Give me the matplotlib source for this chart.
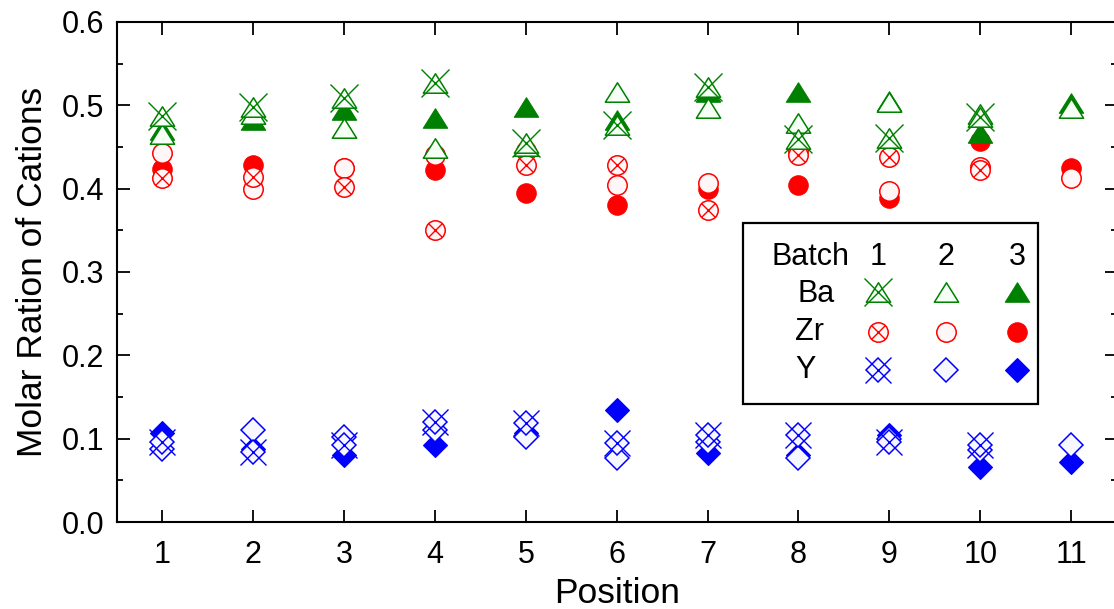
import numpy as np
import matplotlib
matplotlib.use("Agg")
import matplotlib.pyplot as plt
from matplotlib.path import Path
from matplotlib.lines import Line2D
from matplotlib.patches import Rectangle
from matplotlib.ticker import MultipleLocator

plt.rcParams['font.family'] = ['Liberation Sans', 'DejaVu Sans']

# ---------------- data ----------------
positions = [1, 2, 3, 4, 5, 6, 7, 8, 9, 10, 11]
positions_b1 = [1, 2, 3, 4, 5, 6, 7, 8, 9, 10]

ba_b1 = [0.487, 0.498, 0.509, 0.527, 0.455, 0.476, 0.522, 0.459, 0.461, 0.486]
ba_b2 = [0.466, 0.490, 0.473, 0.449, 0.451, 0.516, 0.497, 0.479, 0.504, 0.490, 0.497]
ba_b3 = [0.471, 0.482, 0.494, 0.485, 0.498, 0.482, 0.516, 0.516, 0.505, 0.467, 0.503]

zr_b1 = [0.413, 0.414, 0.402, 0.351, 0.428, 0.428, 0.374, 0.440, 0.438, 0.422]
zr_b2 = [0.443, 0.399, 0.425, 0.441, 0.445, 0.404, 0.407, 0.446, 0.397, 0.426, 0.413]
zr_b3 = [0.424, 0.428, 0.425, 0.422, 0.395, 0.380, 0.400, 0.404, 0.389, 0.457, 0.425]

y_b1 = [0.096, 0.084, 0.092, 0.120, 0.119, 0.095, 0.104, 0.104, 0.096, 0.092]
y_b2 = [0.088, 0.110, 0.102, 0.110, 0.102, 0.077, 0.096, 0.077, 0.100, 0.086, 0.093]
y_b3 = [0.107, 0.088, 0.081, 0.092, 0.107, 0.134, 0.083, 0.080, 0.105, 0.066, 0.072]

batch_labels = ["1", "2", "3"]
element_labels = ["Ba", "Zr", "Y"]

# ---------------- styles ----------------
GREEN = '#008000'
RED = '#ff0000'
BLUE = '#0000ff'
LGREEN = '#f6fff6'
LRED = '#fff7f7'
LBLUE = '#f7f7ff'

TRI = Path([(-1, -0.8), (1, -0.8), (0, 0.8), (-1, -0.8)], closed=True)

TRI_MS = 17.5
CIR_MS = 14
DIA_MS = 12.5

styles = {
    'Ba': dict(marker=TRI, ms=TRI_MS, color=GREEN, light=LGREEN, xms=20),
    'Zr': dict(marker='o', ms=CIR_MS, color=RED, light=LRED, xms=10.5),
    'Y':  dict(marker='D', ms=DIA_MS, color=BLUE, light=LBLUE, xms=19),
}


def draw(target, xs, ys, elem, batch, **kw):
    st = styles[elem]
    if batch == 3:
        target.plot(xs, ys, ls='none', marker=st['marker'], ms=st['ms'],
                    mfc=st['color'], mec=st['color'], mew=0.8, **kw)
    else:
        target.plot(xs, ys, ls='none', marker=st['marker'], ms=st['ms'],
                    mfc=st['light'], mec=st['color'], mew=1.1, **kw)
        if batch == 1:
            target.plot(xs, ys, ls='none', marker='x', ms=st['xms'],
                        mec=st['color'], mew=1.0, **kw)


W, H = 1114, 609
fig = plt.figure(figsize=(W / 100, H / 100), dpi=100)

left_px, right_px, top_px, bottom_px = 117, 1116.5, 22, 522
ax = fig.add_axes([left_px / W, 1 - bottom_px / H,
                   (right_px - left_px) / W, (bottom_px - top_px) / H])

series = {
    'Y': [(positions_b1, y_b1), (positions, y_b2), (positions, y_b3)],
    'Zr': [(positions_b1, zr_b1), (positions, zr_b2), (positions, zr_b3)],
    'Ba': [(positions_b1, ba_b1), (positions, ba_b2), (positions, ba_b3)],
}
for elem in ['Y', 'Zr', 'Ba']:
    for batch in [3, 2, 1]:
        xs, ys = series[elem][batch - 1]
        draw(ax, xs, ys, elem, batch)

ax.set_xlim(0.5, 11.5)
ax.set_ylim(0.0, 0.6)
ax.set_xticks(positions)
ax.yaxis.set_major_locator(MultipleLocator(0.1))
ax.yaxis.set_minor_locator(MultipleLocator(0.05))
ax.yaxis.set_major_formatter(matplotlib.ticker.FormatStrFormatter('%.1f'))

for s in ['left', 'bottom', 'top']:
    ax.spines[s].set_linewidth(1.5)
ax.spines['right'].set_visible(False)

ax.tick_params(axis='both', which='major', direction='in', length=9,
               width=1.3, top=True, right=True, labelsize=22)
ax.tick_params(axis='y', which='minor', direction='in', length=4.5,
               width=1.3, right=True)
ax.tick_params(axis='y', which='major', pad=9)
ax.tick_params(axis='x', which='major', pad=13)

ax.set_xlabel('Position', fontsize=25.5, labelpad=5)
ax.set_ylabel('Molar Ration of Cations', fontsize=25.5, labelpad=9)

# ---------------- legend (manual table) ----------------
def fx(px):
    return px / W


def fy(py):
    return 1 - py / H


fig.add_artist(Rectangle((fx(743), fy(404)), fx(1038) - fx(743), fy(223) - fy(404),
                         transform=fig.transFigure, fill=False, ec='black',
                         lw=1.6, zorder=5))

fig.text(fx(771), fy(257), 'Batch', fontsize=22, va='center', ha='left', zorder=6)
col_x = [878, 946, 1017]
for cx, lab in zip(col_x, batch_labels):
    fig.text(fx(cx), fy(257), lab, fontsize=22, va='center', ha='center', zorder=6)

row_y = [294, 332, 370]
row_lab_x = [797, 795, 795]
for ry, lx, elem in zip(row_y, row_lab_x, element_labels):
    fig.text(fx(lx), fy(ry), elem, fontsize=22, va='center', ha='left', zorder=6)
    mk_y = ry - 2 if elem == 'Ba' else ry
    for cx, batch in zip(col_x, [1, 2, 3]):
        st = styles[elem]
        if batch == 3:
            fig.add_artist(Line2D([fx(cx)], [fy(mk_y)], transform=fig.transFigure,
                                  ls='none', marker=st['marker'], ms=st['ms'],
                                  mfc=st['color'], mec=st['color'], mew=0.8, zorder=6))
        else:
            fig.add_artist(Line2D([fx(cx)], [fy(mk_y)], transform=fig.transFigure,
                                  ls='none', marker=st['marker'], ms=st['ms'],
                                  mfc=st['light'], mec=st['color'], mew=1.1, zorder=6))
            if batch == 1:
                fig.add_artist(Line2D([fx(cx)], [fy(mk_y)], transform=fig.transFigure,
                                      ls='none', marker='x', ms=st['xms'],
                                      mec=st['color'], mew=1.0, zorder=6))

fig.savefig('out.png', dpi=100)
